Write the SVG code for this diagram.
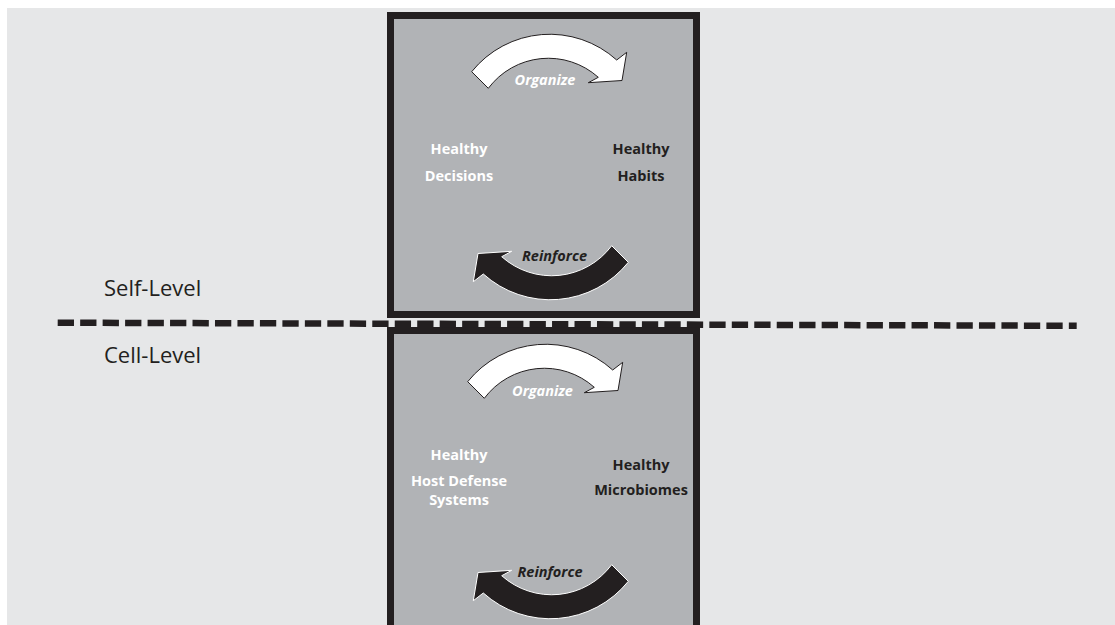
<svg xmlns="http://www.w3.org/2000/svg" xmlns:xlink="http://www.w3.org/1999/xlink" width="1115" height="625" viewBox="0 0 1115 625">
  <style>
    .box { fill: #b1b3b6; stroke: #231f20; stroke-width: 7; }
    .lbl { font-family: "Open Sans", "Liberation Sans", sans-serif; font-size: 14.5px; font-weight: bold; text-anchor: middle; }
    .w { fill: #ffffff; }
    .d { fill: #231f20; }
    .verb { font-family: "Open Sans", "Liberation Sans", sans-serif; font-size: 14.5px; font-weight: bold; font-style: italic; text-anchor: middle; }
    .lvl { font-family: "Open Sans", "Liberation Sans", sans-serif; font-size: 22px; fill: #231f20; }
    .org { fill: #ffffff; stroke: #231f20; stroke-width: 1; stroke-linejoin: miter; }
    .rei { fill: #231f20; stroke: #ffffff; stroke-width: 1; stroke-linejoin: miter; }
  </style>
  <defs>
    <path id="curvedArrow" d="M 471.7 71.7 A 100 100 0 0 1 616.7 60 L 626.7 52.3 L 622 80.5 L 588.3 82.7 L 598.3 77.3 A 75 75 0 0 0 488.3 88.3 Z"/>
  </defs>
  <rect x="0" y="0" width="1115" height="625" fill="#ffffff"/>
  <rect x="7" y="8" width="1108" height="617" fill="#e6e7e8"/>

  <g id="self-level-box">
    <rect class="box" x="390.5" y="15.5" width="306" height="299"/>
    <use xlink:href="#curvedArrow" class="org"/>
    <use xlink:href="#curvedArrow" class="rei" transform="rotate(180 550 167)"/>
    <text class="verb w" x="545" y="85">Organize</text>
    <text class="verb d" x="554.5" y="261">Reinforce</text>
    <text class="lbl w" x="459" y="154">Healthy</text>
    <text class="lbl w" x="459" y="181">Decisions</text>
    <text class="lbl d" x="641" y="154">Healthy</text>
    <text class="lbl d" x="641" y="181">Habits</text>
  </g>

  <g id="cell-level-box">
    <rect class="box" x="390.5" y="330.5" width="306" height="320"/>
    <use xlink:href="#curvedArrow" class="org" transform="translate(-4 310)"/>
    <use xlink:href="#curvedArrow" class="rei" transform="translate(0 319) rotate(180 550 167)"/>
    <text class="verb w" x="542.5" y="395.5">Organize</text>
    <text class="verb d" x="550" y="576.7">Reinforce</text>
    <text class="lbl w" x="459" y="460">Healthy</text>
    <text class="lbl w" x="459" y="485.7">Host Defense</text>
    <text class="lbl w" x="459" y="505">Systems</text>
    <text class="lbl d" x="641" y="470">Healthy</text>
    <text class="lbl d" x="641" y="495">Microbiomes</text>
  </g>

  <g id="connectors">
    <line x1="57.7" y1="322.7" x2="1076.7" y2="325.8" stroke="#231f20" stroke-width="6.5" stroke-dasharray="16.3 6.17"/>
  </g>

  <g id="level-labels">
    <text class="lvl" x="104" y="296">Self-Level</text>
    <text class="lvl" x="104" y="363">Cell-Level</text>
  </g>
</svg>
